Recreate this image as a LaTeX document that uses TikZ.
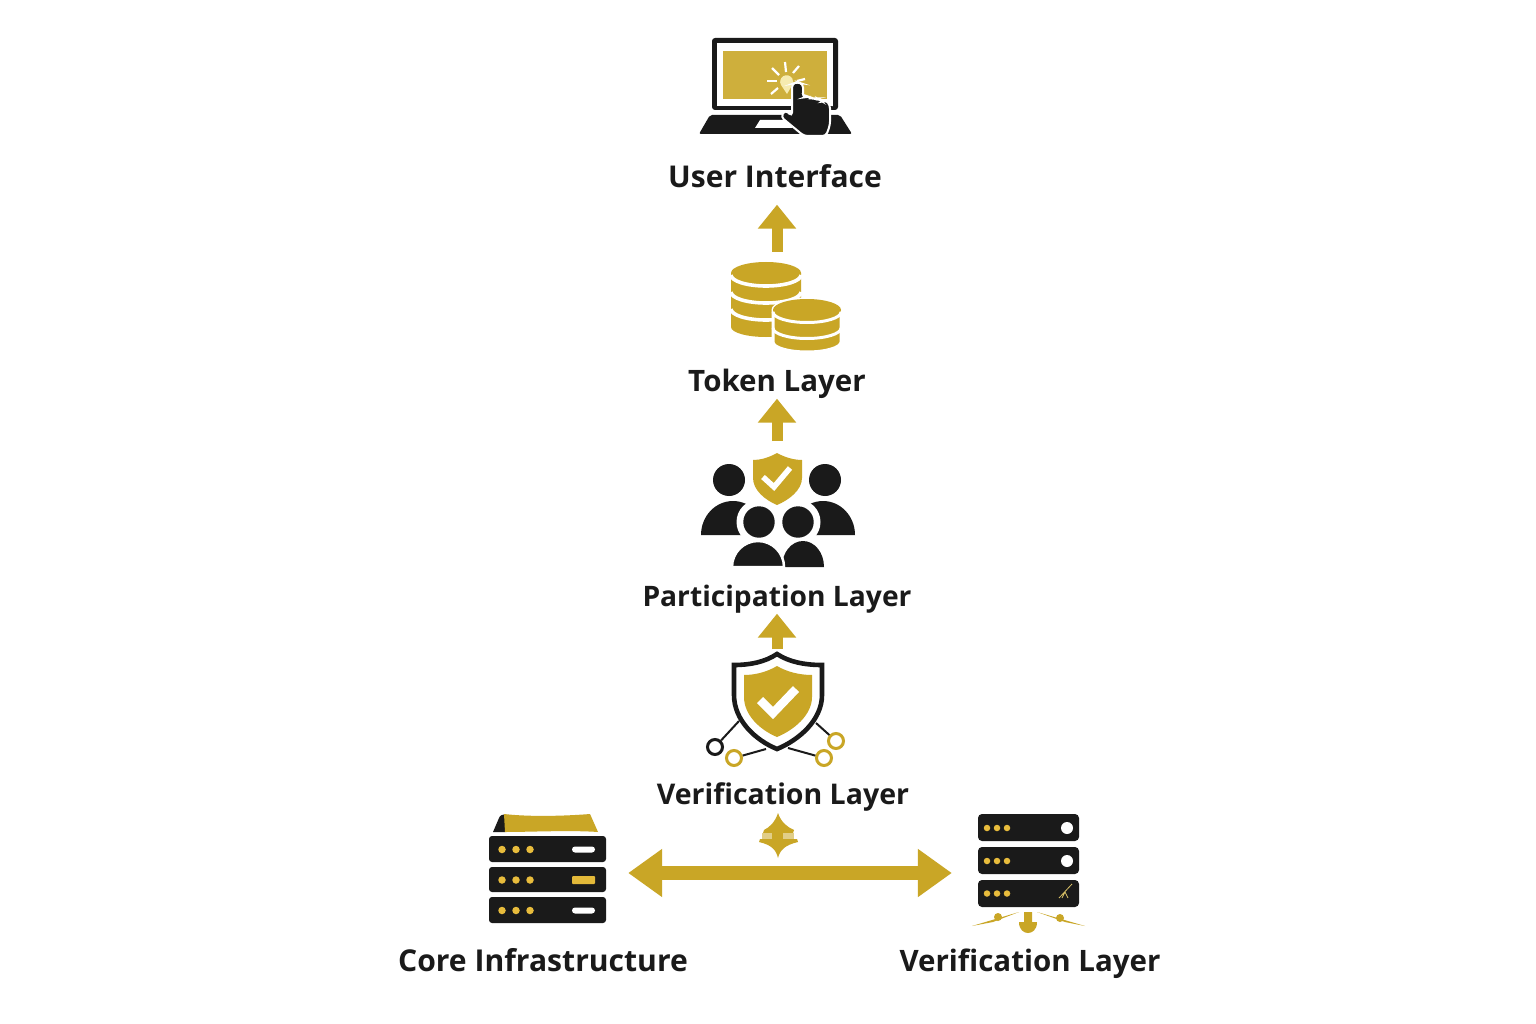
\documentclass[tikz,border=0pt]{standalone}
\usepackage{fontspec}
\setmainfont{Open Sans}
\usetikzlibrary{arrows.meta}
\definecolor{gold}{HTML}{C9A626}
\definecolor{ink}{HTML}{1A1A1A}
\definecolor{lamp}{HTML}{E8BC3C}
\definecolor{bulb}{HTML}{F6EBB0}
\begin{document}
\begin{tikzpicture}[
    x=1pt,y=-1pt,
    layerlabel/.style={font=\fontsize{#1}{36}\selectfont\bfseries,text=ink,inner sep=0pt,text height=24pt,text depth=7pt},
    layerlabel/.default=29.5,
    iconbox/.style={inner sep=0pt,minimum width=#1},
    flowup/.style={-{Triangle[width=37pt,length=24pt]},line width=11pt,gold},
    flowwide/.style={{Triangle[width=46pt,length=34pt]}-{Triangle[width=46pt,length=34pt]},line width=14pt,gold},
    rackdot/.style={circle,fill=lamp,inner sep=0pt,minimum size=#1},
    ring/.style={circle,draw=#1,line width=3pt,fill=white,inner sep=0pt,minimum size=15pt},
    link/.style={line width=2pt,ink},
    ray/.style={white,line width=2.2pt}
  ]
    \useasboundingbox (0,0) rectangle (1536,1024);
    \fill[white] (0,0) rectangle (1536,1024);

    \node[layerlabel=30] (uilabel) at (775,179) {User Interface};
    \node[layerlabel] (tokenlabel) at (777,383) {Token Layer};
    \node[layerlabel=28.2] (partlabel) at (777,598) {Participation Layer};
    \node[layerlabel=28.5] (verilabel) at (783,796) {Verification Layer};
    \node[layerlabel=30.1] (corelabel) at (543,963) {Core Infrastructure};
    \node[layerlabel] (nodelabel) at (1030,963) {Verification Layer};

    \node[iconbox=130pt,minimum height=100pt,anchor=north] (tokenicon) at (777,252) {};
    \node[iconbox=156pt,minimum height=128pt,anchor=north] (particon) at (777,441) {};
    \node[iconbox=140pt,minimum height=120pt,anchor=north] (vericon) at (777,649) {};
    \node[iconbox=162pt,minimum height=110pt] (coreicon) at (547,873) {};
    \node[iconbox=152pt,minimum height=120pt] (nodeicon) at (1028,873) {};

    \draw[flowup,shorten >=10pt] (tokenicon.north) -- (tokenicon.north |- uilabel.south);
    \draw[flowup] (particon.north) -- (particon.north |- tokenlabel.south);
    \draw[flowup] (vericon.north) -- (vericon.north |- partlabel.south);
    \draw[flowwide] (coreicon.east) -- (nodeicon.west);

    % laptop
    \fill[ink,rounded corners=3pt] (712,38) rectangle (838,110);
    \fill[white] (717,43) rectangle (833,106);
    \fill[gold!90!white] (723,51) rectangle (827,99);
    \fill[ink,rounded corners=2pt] (710,115) -- (840,115) -- (852,134) -- (699,134) -- cycle;
    \fill[white] (760,120) -- (792,120) -- (792,128) -- (755,128) -- cycle;
    \fill[bulb] (787,94) -- (781,85) arc (150:390:6.5) -- cycle;
    \foreach \xa/\ya/\xb/\yb in {785/62/786/72,793/73/799/66,797/81/805/79,779/75/772/68,777/81/767/81,778/88/771/94}
      \draw[ray] (\xa,\ya) -- (\xb,\yb);
    \draw[ink,fill=ink,draw=white,line width=2pt,rounded corners=3.5pt] (792,116) -- (792,84) -- (797,82) -- (803,84) -- (803,98) -- (808,96) -- (813,99) -- (818,98) -- (822,102) -- (826,100) -- (830,105) -- (830,125) -- (826,136) -- (804,136) -- (781,117) -- (785,110) -- cycle;

    % coins
    \fill[gold] (731,273) -- (731,327) arc (180:0:35 and 10) -- (801,273) -- cycle;
    \fill[gold] (766,273) ellipse (35 and 11);
    \foreach \yc in {275,292,309}
      \draw[white,line width=3.6pt] (731,\yc) arc (180:0:35 and 11);
    \draw[white,fill=gold,line width=3pt] (773,310) -- (773,342) arc (180:0:34 and 10) -- (841,310) arc (0:-180:34 and 11) -- cycle;
    \fill[gold] (807,310) ellipse (34 and 11);
    \draw[white,line width=3pt] (773,312) arc (180:0:34 and 10.5);
    \draw[white,line width=3pt] (773,328) arc (180:0:34 and 10.5);

    % people
    \fill[ink] (729,480) circle (16);
    \fill[ink] (825,480) circle (16);
    \fill[ink] (701,535) arc (180:360:32 and 34) -- cycle;
    \fill[ink] (855,535) arc (0:-180:32 and 34) -- cycle;
    \fill[white] (759,522) circle (22.5);
    \fill[white] (798,522) circle (22.5);
    \fill[ink] (759,522) circle (15.7);
    \fill[ink] (798,522) circle (15.7);
    \fill[ink] (782,567) arc (180:360:21 and 26) -- cycle;
    \draw[fill=ink,draw=white,line width=2.5pt] (732,567) arc (180:360:26 and 26) -- cycle;
    \fill[gold] (777,453) .. controls (768,458) and (760,460) .. (753,460) -- (753,478) .. controls (753,490) and (765,500) .. (777,505) .. controls (789,500) and (802,490) .. (802,478) -- (802,460) .. controls (795,460) and (786,458) .. (777,453) -- cycle;
    \draw[white,line width=5.5pt] (763,477) -- (774,487) -- (790,468);

    % big shield
    \draw[ink,fill=white,line width=4.6pt] (777,654) .. controls (765,662) and (750,665) .. (734,665) -- (734,695) .. controls (734,720) and (755,740) .. (777,749) .. controls (799,740) and (822,720) .. (822,695) -- (822,665) .. controls (805,665) and (789,662) .. (777,654) -- cycle;
    \fill[gold] (777,666) .. controls (767,672) and (755,675) .. (744,675) -- (744,697) .. controls (744,715) and (760,730) .. (777,737) .. controls (794,730) and (812,715) .. (812,697) -- (812,675) .. controls (800,675) and (787,672) .. (777,666) -- cycle;
    \draw[white,line width=8.5pt] (760,700) -- (773,713) -- (796,689);
    \node[ring=ink] (netleft) at (715,747) {};
    \node[ring=gold] (netlow) at (734,758) {};
    \node[ring=gold] (netright) at (824,758) {};
    \node[ring=gold] (netup) at (836,741) {};
    \coordinate (shielda) at (739,721);
    \coordinate (shieldb) at (766,749);
    \coordinate (shieldc) at (788,748);
    \coordinate (shieldd) at (816,723);
    \draw[link] (shielda) -- (netleft);
    \draw[link] (shieldb) -- (netlow);
    \draw[link] (shieldc) -- (netright);
    \draw[link] (shieldd) -- (netup);

    % small double arrow
    \fill[gold] (778,813) .. controls (775,822) and (770,827) .. (764,830) -- (763,833) -- (793,833) -- (794,830) .. controls (787,827) and (781,822) .. (778,813) -- cycle;
    \fill[gold!55!white] (762,833) rectangle (794,839);
    \fill[gold] (772,832) rectangle (783,841);
    \fill[gold] (778,858) .. controls (776,850) and (772,845) .. (759,842) -- (760,839) -- (797,839) -- (798,842) .. controls (785,845) and (780,850) .. (778,858) -- cycle;

    % left server
    \fill[ink] (493,832) -- (499,818) .. controls (500,815) and (503,814) .. (506,815) -- (505,832) -- cycle;
    \fill[gold] (504,814) .. controls (530,817) and (565,816) .. (590,814) -- (598,832) .. controls (570,830) and (530,832) .. (505,832) -- cycle;
    \foreach \ya/\yb/\ym in {836/862/849.5,867/892/880,897/923/910.5} {
      \fill[ink,rounded corners=3pt] (489,\ya) rectangle (606,\yb);
      \foreach \xd in {502,516,530}
        \node[rackdot=7.5pt] at (\xd,\ym) {};
    }
    \fill[white,rounded corners=3pt] (572,846.5) rectangle (595,852.5);
    \fill[lamp!85!gold,rounded corners=1pt] (572,876) rectangle (595,884);
    \fill[white,rounded corners=3pt] (572,907.5) rectangle (595,913.5);

    % right server
    \foreach \ya/\yb/\ym in {814/841/828,847/874/861,880/907/893.5} {
      \fill[ink,rounded corners=4pt] (978,\ya) rectangle (1079,\yb);
      \foreach \xd in {987,997,1007}
        \node[rackdot=6.5pt] at (\xd,\ym) {};
    }
    \fill[white] (1067,828) circle (6);
    \fill[white] (1067,861) circle (6);
    \draw[gold!70!white,line width=0.8pt] (1059,898) -- (1072,884) (1065,892) -- (1062,898) (1065,892) -- (1068,898);
    \fill[gold] (1024,912) -- (1032,912) -- (1032,922) -- (1037,922) .. controls (1037,930) and (1032,933) .. (1028,933) .. controls (1024,933) and (1019,930) .. (1019,922) -- (1024,922) -- cycle;
    \fill[gold] (972,926) -- (1019,912) -- (993,922) -- cycle;
    \fill[gold] (1085,926) -- (1037,912) -- (1065,922) -- cycle;
    \fill[gold] (998,917) circle (4);
    \fill[gold] (1060,918) circle (4);
  \end{tikzpicture}
\end{document}
